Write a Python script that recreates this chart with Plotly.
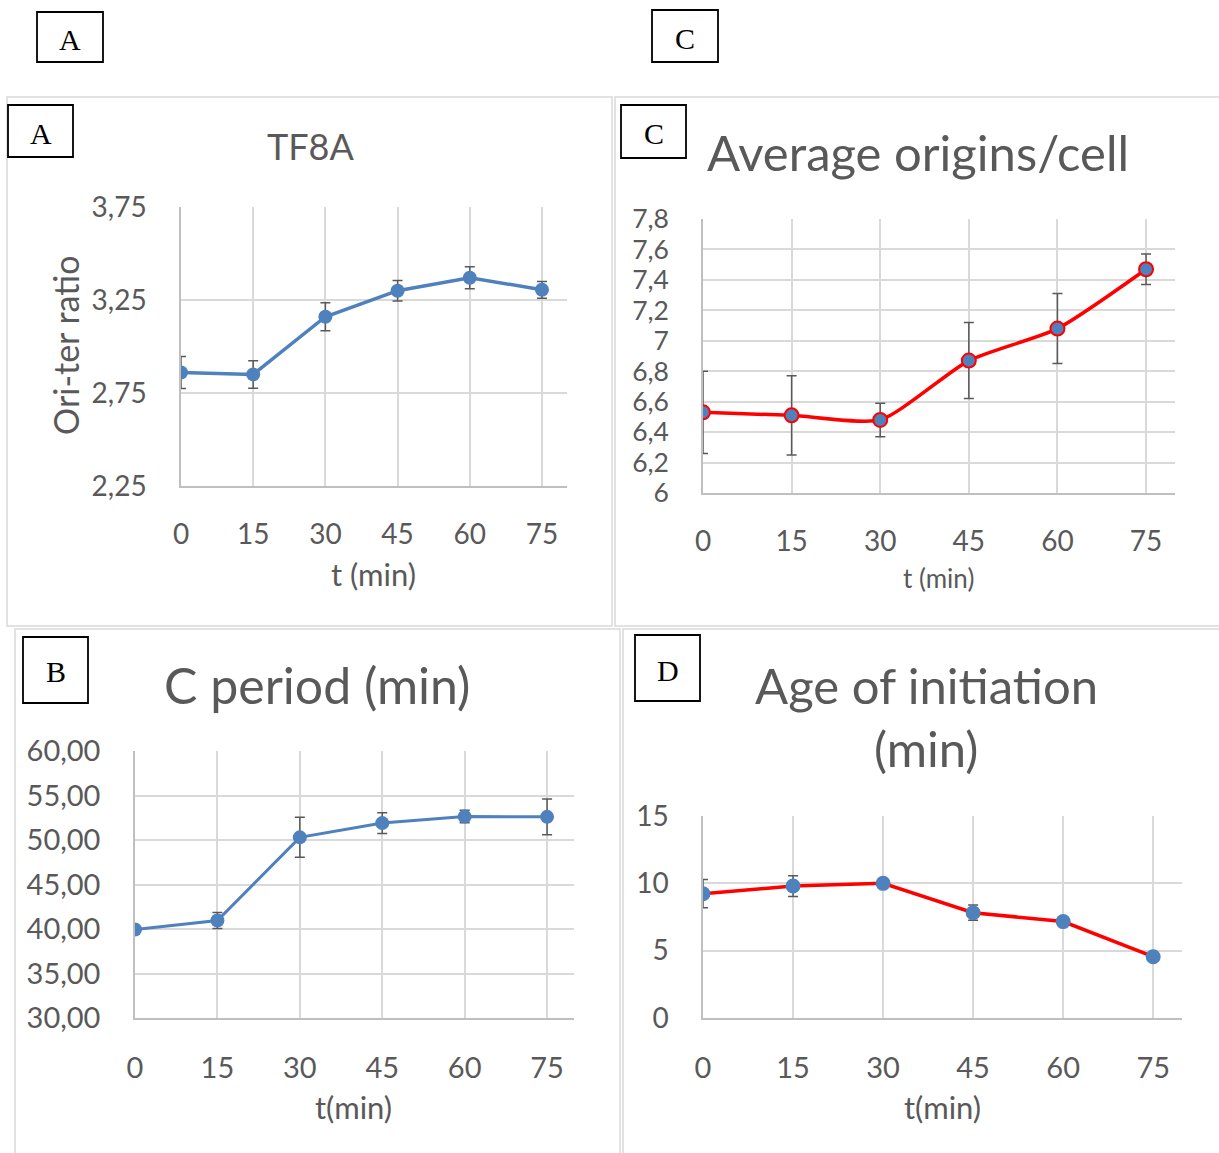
import plotly.graph_objects as go

W, H = 1219, 1153

# ---------------- data ----------------
t_min = [0, 15, 30, 45, 60, 75]

# Panel A: TF8A ori-ter ratio
ori_ter = [2.86, 2.85, 3.16, 3.30, 3.37, 3.305]
ori_ter_err = [0.086, 0.074, 0.075, 0.055, 0.059, 0.045]
a_yticks = [2.25, 2.75, 3.25, 3.75]
a_yticklabels = ["2,25", "2,75", "3,25", "3,75"]

# Panel C: average origins per cell
origins = [6.53, 6.51, 6.48, 6.87, 7.08, 7.47]
origins_err = [0.27, 0.26, 0.11, 0.25, 0.23, 0.10]
c_yticks = [6.0, 6.2, 6.4, 6.6, 6.8, 7.0, 7.2, 7.4, 7.6, 7.8]
c_yticklabels = ["6", "6,2", "6,4", "6,6", "6,8", "7", "7,2", "7,4", "7,6", "7,8"]

# Panel B: C period (min)
c_period = [39.95, 40.95, 50.3, 51.9, 52.63, 52.6]
c_period_err = [0.3, 0.9, 2.25, 1.17, 0.7, 2.0]
b_yticks = [30, 35, 40, 45, 50, 55, 60]
b_yticklabels = ["30,00", "35,00", "40,00", "45,00", "50,00", "55,00", "60,00"]

# Panel D: age of initiation (min)
age_init = [9.23, 9.8, 10.0, 7.82, 7.16, 4.55]
age_init_err = [1.05, 0.77, 0.2, 0.57, 0.2, 0.2]
d_yticks = [0, 5, 10, 15]
d_yticklabels = ["0", "5", "10", "15"]

x_ticklabels = ["0", "15", "30", "45", "60", "75"]

# ---------------- helpers ----------------
def px(x):
    return x / W

def py(y):
    return 1 - y / H

BLUE = "#4F81BD"
RED = "#FF0000"
GRID = "#d9d9d9"
AXL = "#bfbfbf"
TXT = "#595959"
ERR = "#595959"
FONT = "Lato"
SERIF = "Liberation Serif"

fig = go.Figure()

# A
fig.add_trace(go.Scatter(
    x=t_min, y=ori_ter, mode="lines+markers", xaxis="x", yaxis="y",
    line=dict(color=BLUE, width=3.5),
    marker=dict(color=BLUE, size=14),
    error_y=dict(type="data", array=ori_ter_err, color=ERR, thickness=1.5, width=5),
    showlegend=False))
# C
fig.add_trace(go.Scatter(
    x=t_min, y=origins, mode="lines+markers", xaxis="x2", yaxis="y2",
    line=dict(color=RED, width=3.5, shape="spline", smoothing=0.6),
    marker=dict(color=BLUE, size=14, line=dict(color=RED, width=2)),
    error_y=dict(type="data", array=origins_err, color=ERR, thickness=1.5, width=5),
    showlegend=False))
# B
fig.add_trace(go.Scatter(
    x=t_min, y=c_period, mode="lines+markers", xaxis="x3", yaxis="y3",
    line=dict(color=BLUE, width=3),
    marker=dict(color=BLUE, size=14),
    error_y=dict(type="data", array=c_period_err, color=ERR, thickness=1.5, width=5),
    showlegend=False))
# D
fig.add_trace(go.Scatter(
    x=t_min, y=age_init, mode="lines+markers", xaxis="x4", yaxis="y4",
    line=dict(color=RED, width=3.5),
    marker=dict(color=BLUE, size=15),
    error_y=dict(type="data", array=age_init_err, color=ERR, thickness=1.5, width=5),
    showlegend=False))


def xax(dom, rng, anchor, fs):
    return dict(domain=[px(dom[0]), px(dom[1])], range=rng, anchor=anchor,
                automargin=False,
                tickvals=t_min, ticktext=x_ticklabels, showgrid=True, gridcolor=GRID,
                gridwidth=1.5, showline=True, linecolor=AXL, linewidth=1.5,
                zeroline=False, ticks="", ticklabelstandoff=23,
                tickfont=dict(family=FONT, size=fs, color=TXT), fixedrange=True)


def yax(dom, rng, anchor, vals, labels, fs):
    return dict(domain=[py(dom[1]), py(dom[0])], range=rng, anchor=anchor,
                automargin=False,
                tickvals=vals, ticktext=labels, showgrid=True, gridcolor=GRID,
                gridwidth=1.5, showline=True, linecolor=AXL, linewidth=1.5,
                zeroline=False, ticks="", ticklabelstandoff=27,
                tickfont=dict(family=FONT, size=fs, color=TXT), fixedrange=True)


layout = dict(
    width=W, height=H, margin=dict(l=0, r=0, t=0, b=0, pad=0, autoexpand=False),
    paper_bgcolor="white", plot_bgcolor="white",
    xaxis=xax((181, 567), [0, 80.2], "y", 28),
    yaxis=yax((207, 486), [2.25, 3.75], "x", a_yticks, a_yticklabels, 28),
    xaxis2=xax((703, 1175), [0, 79.9], "y2", 28),
    yaxis2=yax((219, 493), [6.0, 7.8], "x2", c_yticks, c_yticklabels, 26.5),
    xaxis3=xax((135, 574), [0, 79.9], "y3", 29),
    yaxis3=yax((751, 1018), [30, 60], "x3", b_yticks, b_yticklabels, 29),
    xaxis4=xax((703, 1182), [0, 79.8], "y4", 29),
    yaxis4=yax((816, 1018), [0, 15], "x4", d_yticks, d_yticklabels, 28),
)
fig.update_layout(**layout)

shapes = []
# panel borders
for (x0, y0, x1, y1) in [(7, 97, 612, 626), (615, 97, 1222, 626),
                         (15, 629, 620, 1156), (623, 629, 1222, 1156)]:
    shapes.append(dict(type="rect", xref="paper", yref="paper",
                       x0=px(x0), x1=px(x1), y0=py(y1), y1=py(y0),
                       line=dict(color=GRID, width=1.5), fillcolor="rgba(0,0,0,0)",
                       layer="below"))

# label boxes
boxes = [("A", 37, 12, 103, 62), ("C", 652, 10, 718, 62),
         ("A", 8, 105, 73, 157), ("C", 621, 105, 686, 158),
         ("B", 23, 637, 88, 703), ("D", 635, 635, 700, 701)]
annotations = []
for (lab, x0, y0, x1, y1) in boxes:
    shapes.append(dict(type="rect", xref="paper", yref="paper",
                       x0=px(x0), x1=px(x1), y0=py(y1), y1=py(y0),
                       line=dict(color="black", width=1.8), fillcolor="white",
                       layer="above"))
    annotations.append(dict(text=lab, xref="paper", yref="paper",
                            x=px((x0 + x1) / 2), y=py((y0 + y1) / 2 + 2),
                            showarrow=False, xanchor="center", yanchor="middle",
                            font=dict(family=SERIF, size=30, color="black")))


def txt(s, x, y, size, angle=0):
    annotations.append(dict(text=s, xref="paper", yref="paper", x=px(x), y=py(y),
                            showarrow=False, xanchor="center", yanchor="middle",
                            textangle=angle,
                            font=dict(family=FONT, size=size, color=TXT)))

# titles
txt("TF8A", 310, 146, 36)
txt("Average origins/cell", 918, 152, 49)
txt("C period (min)", 317, 685, 50)
txt("Age of initiation", 926, 685, 49)
txt("(min)", 926, 748, 49)
# axis titles
txt("Ori-ter ratio", 65, 346, 34, angle=-90)
txt("t (min)", 373, 574, 31)
txt("t (min)", 938, 578, 26)
txt("t(min)", 354, 1107, 31)
txt("t(min)", 942, 1107, 31)

fig.update_layout(shapes=shapes, annotations=annotations)

pin_js = (
    "var gd=document.getElementById('{plot_id}');"
    "gd.style.position='fixed';gd.style.left='0px';gd.style.top='0px';"
    "document.documentElement.style.margin='0';document.documentElement.style.padding='0';"
    "document.documentElement.style.overflow='hidden';"
    "document.body.style.margin='0';document.body.style.padding='0';"
    "document.body.style.overflow='hidden';"
)

fig.write_html("out.html", config={"displayModeBar": False}, post_script=pin_js)
